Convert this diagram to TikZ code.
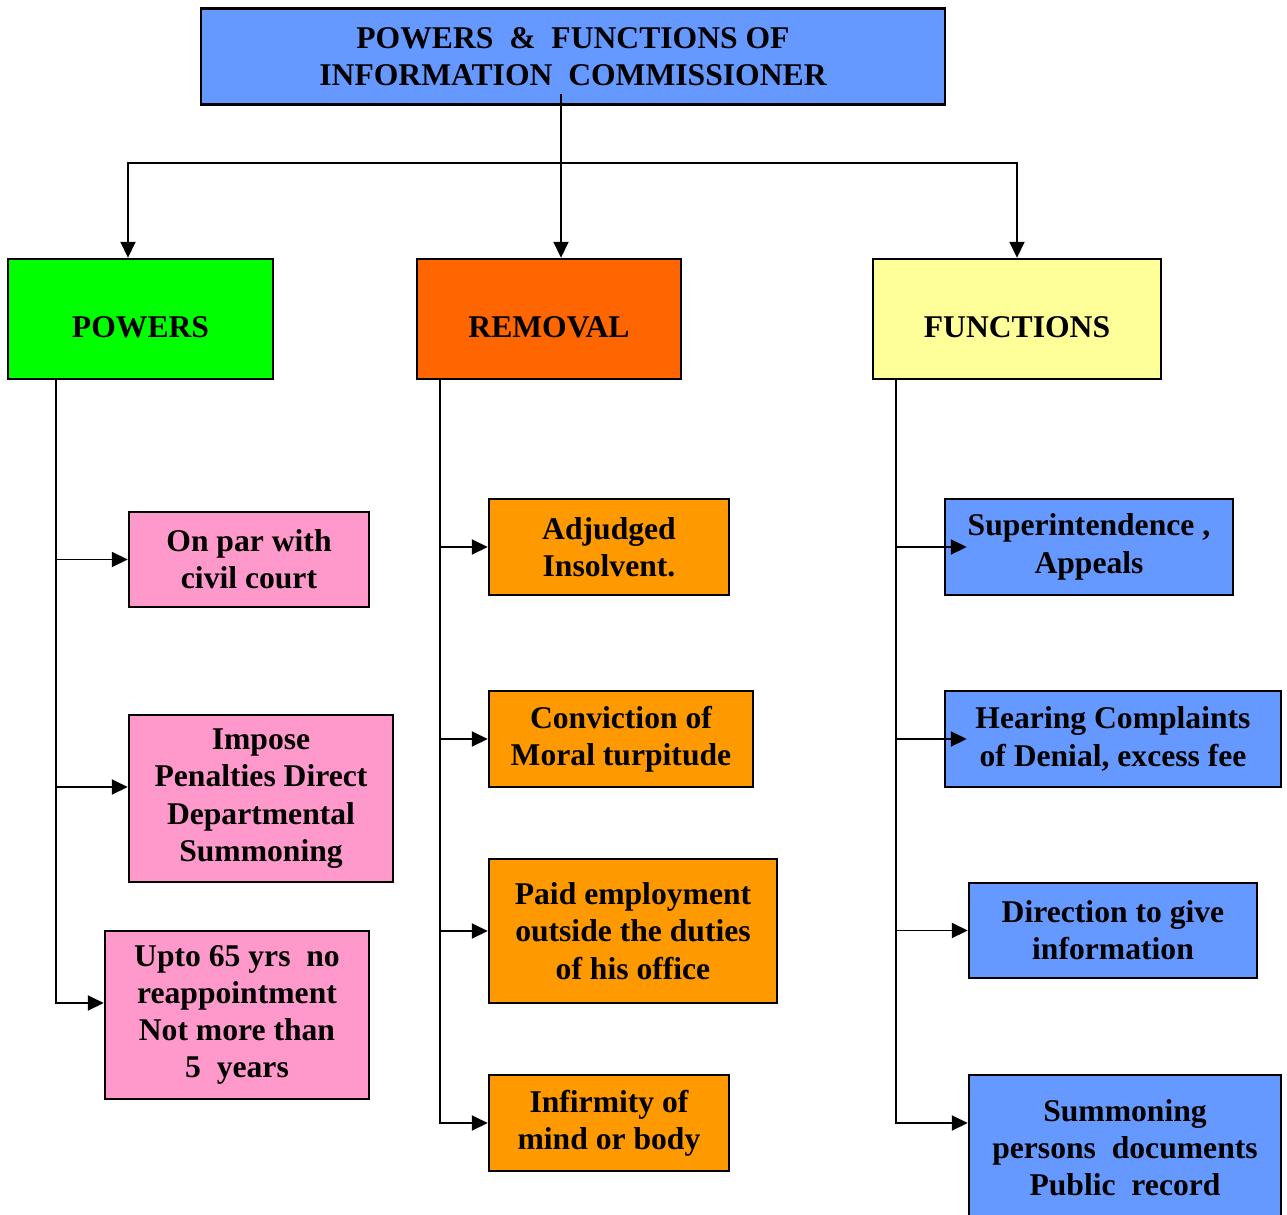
\documentclass[tikz,border=0pt]{standalone}
\usepackage{fontspec}
\setmainfont{Liberation Serif}
\usetikzlibrary{arrows.meta}

\definecolor{headblue}{HTML}{6699FF}
\definecolor{powgreen}{HTML}{00FF00}
\definecolor{remorange}{HTML}{FF6600}
\definecolor{funyellow}{HTML}{FFFF99}
\definecolor{powpink}{HTML}{FF99CC}
\definecolor{remamber}{HTML}{FF9900}

\begin{document}
\begin{tikzpicture}[
        box/.style = {draw, line width=1.4pt, align=center, inner sep=0pt,
            font=\bfseries\fontsize{18}{21.2}\selectfont},
        headbox/.style = {box, minimum height=2.40cm, text height=0.74cm},
        arr/.style = {line width=1.1pt, -{Triangle[length=0.32cm, width=0.3cm]}}
    ]
    \useasboundingbox (0,0) rectangle (25.74,-24.3);

    \node[box, fill=headblue, minimum width=14.88cm, minimum height=1.92cm] (title) at (11.46,-1.13)
        {POWERS~ \&~ FUNCTIONS OF\\INFORMATION~ COMMISSIONER};

    \node[headbox, fill=powgreen, minimum width=5.30cm] (powers) at (2.81,-6.38) {POWERS};
    \node[headbox, fill=remorange, minimum width=5.28cm] (removal) at (10.98,-6.38) {REMOVAL};
    \node[headbox, fill=funyellow, minimum width=5.76cm] (functions) at (20.34,-6.38) {FUNCTIONS};

    \coordinate (split) at (11.22,-3.26);
    \draw[line width=1.1pt] ([xshift=-0.24cm, yshift=0.24cm]title.south) -- (split);
    \draw[arr] (split) -- ([xshift=0.24cm]removal.north);
    \draw[arr] (split) -| ([xshift=-0.25cm]powers.north);
    \draw[arr] (split) -| (functions.north);

    \node[box, fill=powpink, minimum width=4.80cm, minimum height=1.90cm] (civil) at (4.98,-11.19)
        {On par with\\civil court};
    \node[box, fill=powpink, minimum width=5.28cm, minimum height=3.34cm] (penalty) at (5.22,-15.97)
        {Impose\\Penalties Direct\\Departmental\\Summoning};
    \node[box, fill=powpink, minimum width=5.28cm, minimum height=3.36cm] (tenure) at (4.74,-20.30)
        {Upto 65 yrs~ no\\reappointment\\Not more than\\5~ years};

    \node[box, fill=remamber, minimum width=4.80cm, minimum height=1.92cm] (insolvent) at (12.18,-10.94)
        {Adjudged\\Insolvent.};
    \node[box, fill=remamber, minimum width=5.28cm, minimum height=1.92cm] (conviction) at (12.42,-14.78)
        {Conviction of\\Moral turpitude};
    \node[box, fill=remamber, minimum width=5.76cm, minimum height=2.88cm] (employment) at (12.66,-18.62)
        {Paid employment\\outside the duties\\of his office};
    \node[box, fill=remamber, minimum width=4.80cm, minimum height=1.92cm] (infirmity) at (12.18,-22.46)
        {Infirmity of\\mind or body};

    \node[box, fill=headblue, minimum width=5.76cm, minimum height=1.92cm] (superint) at (21.78,-10.94)
        {Superintendence ,\\Appeals};
    \node[box, fill=headblue, minimum width=6.72cm, minimum height=1.92cm] (hearing) at (22.26,-14.78)
        {Hearing Complaints\\of Denial, excess fee};
    \node[box, fill=headblue, minimum width=5.76cm, minimum height=1.90cm] (direction) at (22.26,-18.61)
        {Direction to give\\information};
    \node[box, fill=headblue, minimum width=6.24cm, minimum height=2.90cm] (summon) at (22.50,-22.95)
        {Summoning\\persons~ documents\\Public~ record};

    \draw[arr] ([xshift=0.98cm]powers.south west) |- (civil.west);
    \draw[arr] ([xshift=0.98cm]powers.south west) |- ([yshift=0.23cm]penalty.west);
    \draw[arr] ([xshift=0.98cm]powers.south west) |- ([yshift=0.24cm]tenure.west);

    \draw[arr] ([xshift=0.48cm]removal.south west) |- (insolvent.west);
    \draw[arr] ([xshift=0.48cm]removal.south west) |- (conviction.west);
    \draw[arr] ([xshift=0.48cm]removal.south west) |- (employment.west);
    \draw[arr] ([xshift=0.48cm]removal.south west) |- (infirmity.west);

    \draw[arr] ([xshift=0.48cm]functions.south west) |- ([xshift=0.46cm]superint.west);
    \draw[arr] ([xshift=0.48cm]functions.south west) |- ([xshift=0.46cm]hearing.west);
    \draw[arr] ([xshift=0.48cm]functions.south west) |- (direction.west);
    \draw[arr] ([xshift=0.48cm]functions.south west) |- ([yshift=0.49cm]summon.west);
\end{tikzpicture}
\end{document}
